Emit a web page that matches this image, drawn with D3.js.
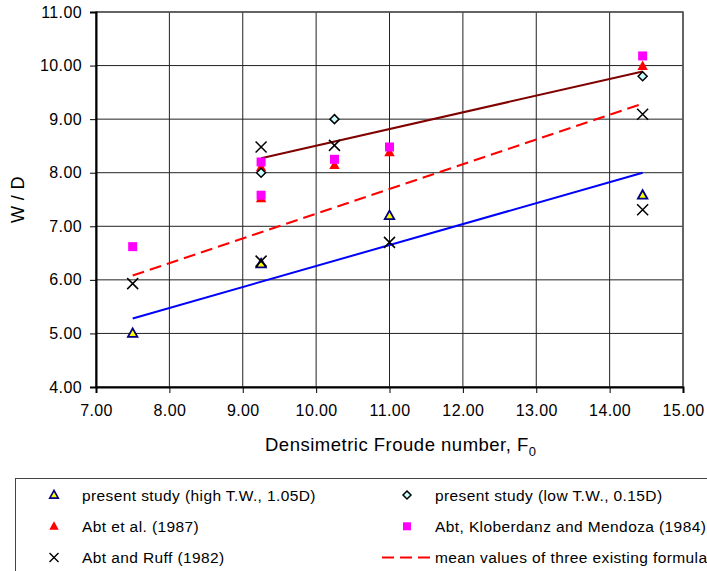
<!DOCTYPE html>
<html>
<head>
<meta charset="utf-8">
<script src="https://cdn.jsdelivr.net/npm/d3@7"></script>
<style>
  body { margin: 0; background: #fff; }
  svg { font-family: "Liberation Sans", Arial, sans-serif; display: block; }
</style>
</head>
<body>
<div id="chart"></div>
<script>
// data
var xTicks = [7, 8, 9, 10, 11, 12, 13, 14, 15];
var yTicks = [4, 5, 6, 7, 8, 9, 10, 11];

var highTW = [[7.5, 5.0], [9.25, 6.3], [11.0, 7.2], [14.45, 7.58]];
var lowTW = [[9.25, 8.0], [10.25, 9.0], [14.45, 9.8]];
var abt1987 = [[9.25, 8.1], [9.25, 7.52], [10.25, 8.14], [11.0, 8.38], [14.45, 9.99]];
var abtKM1984 = [[7.5, 6.62], [9.25, 8.2], [9.25, 7.58], [10.25, 8.25], [11.0, 8.48], [14.45, 10.18]];
var abtRuff1982 = [[7.5, 5.93], [9.25, 8.48], [9.25, 6.35], [10.25, 8.51], [11.0, 6.7], [14.45, 9.09], [14.45, 7.31]];

var lineLow = [[9.25, 8.27], [14.45, 9.89]];
var lineMean = [[7.5, 6.08], [14.45, 9.29]];
var lineHigh = [[7.5, 5.28], [14.45, 8.0]];

var svgWidth = 707;
var svgHeight = 571;
var margin = {top: 12, left: 96};
var width = 587;
var height = 375;

var svg = d3.select('#chart')
    .append('svg')
    .attr('width', svgWidth)
    .attr('height', svgHeight);

var chartGroup = svg.append('g')
    .attr('transform', `translate(${margin.left},${margin.top})`);

var x = d3.scaleLinear().domain([7, 15]).range([0, width]);
var y = d3.scaleLinear().domain([4, 11]).range([height, 0]);

// grid
chartGroup.append('g').selectAll('line')
    .data(xTicks)
    .enter().append('line')
    .attr('x1', d => x(d)).attr('x2', d => x(d))
    .attr('y1', 0).attr('y2', height)
    .attr('stroke', '#222').attr('stroke-width', 1);
chartGroup.append('g').selectAll('line')
    .data(yTicks)
    .enter().append('line')
    .attr('x1', 0).attr('x2', width)
    .attr('y1', d => y(d)).attr('y2', d => y(d))
    .attr('stroke', '#222').attr('stroke-width', 1);
chartGroup.append('rect')
    .attr('x', 0).attr('y', 0)
    .attr('width', width).attr('height', height)
    .attr('fill', 'none').attr('stroke', '#555').attr('stroke-width', 1.5);

// axes
var bottomAxis = d3.axisBottom(x).tickValues(xTicks).tickFormat(d3.format('.2f')).tickSizeOuter(0).tickSize(6).tickPadding(12);
var leftAxis = d3.axisLeft(y).tickValues(yTicks).tickFormat(d3.format('.2f')).tickSizeOuter(0).tickSize(6).tickPadding(8);

var xg = chartGroup.append('g')
    .attr('transform', `translate(0,${height})`)
    .call(bottomAxis);
var yg = chartGroup.append('g')
    .call(leftAxis);
[xg, yg].forEach(function(g) {
    g.select('.domain').attr('stroke', '#000').attr('stroke-width', 2);
    g.selectAll('.tick line').attr('stroke', '#000').attr('stroke-width', 1);
    g.selectAll('.tick text').attr('font-size', 16).attr('fill', '#000')
        .attr('letter-spacing', 0.4)
        .attr('font-family', '"Liberation Sans", Arial, sans-serif');
});

// fitted lines
var line = d3.line().x(d => x(d[0])).y(d => y(d[1]));
chartGroup.append('path').datum(lineLow)
    .attr('d', line).attr('fill', 'none').attr('stroke', '#800000').attr('stroke-width', 2);
chartGroup.append('path').datum(lineMean)
    .attr('d', line).attr('fill', 'none').attr('stroke', '#ff0000').attr('stroke-width', 2)
    .attr('stroke-dasharray', '12,6');
chartGroup.append('path').datum(lineHigh)
    .attr('d', line).attr('fill', 'none').attr('stroke', '#0000ff').attr('stroke-width', 2);

// marker helpers
function triPath(s) {
    return `M0,${-s} L${s * 0.95},${s * 0.7} L${-s * 0.95},${s * 0.7} Z`;
}
function diaPath(s) {
    return `M0,${-s} L${s},0 L0,${s} L${-s},0 Z`;
}
function xPath(s) {
    return `M${-s},${-s} L${s},${s} M${-s},${s} L${s},${-s}`;
}

chartGroup.append('g').selectAll('path')
    .data(abt1987).enter().append('path')
    .attr('transform', d => `translate(${x(d[0])},${y(d[1])})`)
    .attr('d', triPath(5.5))
    .attr('fill', '#ff0000');

chartGroup.append('g').selectAll('rect')
    .data(abtKM1984).enter().append('rect')
    .attr('x', d => x(d[0]) - 4.5).attr('y', d => y(d[1]) - 4.5)
    .attr('width', 9).attr('height', 9)
    .attr('fill', '#ff00ff');

chartGroup.append('g').selectAll('path')
    .data(lowTW).enter().append('path')
    .attr('transform', d => `translate(${x(d[0])},${y(d[1])})`)
    .attr('d', diaPath(4.5))
    .attr('fill', '#ccffff').attr('stroke', '#000').attr('stroke-width', 1.5);

chartGroup.append('g').selectAll('path')
    .data(highTW).enter().append('path')
    .attr('transform', d => `translate(${x(d[0])},${y(d[1])})`)
    .attr('d', triPath(5))
    .attr('fill', '#ffff00').attr('stroke', '#000080').attr('stroke-width', 1.8);

chartGroup.append('g').selectAll('path')
    .data(abtRuff1982).enter().append('path')
    .attr('transform', d => `translate(${x(d[0])},${y(d[1])})`)
    .attr('d', xPath(5.5))
    .attr('fill', 'none').attr('stroke', '#000').attr('stroke-width', 1.5);

// axis titles
svg.append('text')
    .attr('transform', 'rotate(-90)')
    .attr('x', -(margin.top + height / 2))
    .attr('y', 24)
    .attr('text-anchor', 'middle')
    .attr('font-size', 18)
    .attr('letter-spacing', 0.4)
    .text('W / D');

var xTitle = svg.append('text')
    .attr('x', 265)
    .attr('y', 451)
    .attr('font-size', 18.5)
    .attr('letter-spacing', 0.5);
xTitle.append('tspan').text('Densimetric Froude number, F');
xTitle.append('tspan').attr('font-size', 13).attr('dy', 5).text('0');

// legend
var legendItems = [
    {label: 'present study (high T.W., 1.05D)', type: 'highTW', col: 0, row: 0},
    {label: 'present study (low T.W., 0.15D)', type: 'lowTW', col: 1, row: 0},
    {label: 'Abt et al. (1987)', type: 'abt1987', col: 0, row: 1},
    {label: 'Abt, Kloberdanz and Mendoza (1984)', type: 'abtKM', col: 1, row: 1},
    {label: 'Abt and Ruff (1982)', type: 'ruff', col: 0, row: 2},
    {label: 'mean values of three existing formulas', type: 'mean', col: 1, row: 2}
];

svg.append('rect')
    .attr('x', 15.5).attr('y', 478.5)
    .attr('width', 720).attr('height', 110)
    .attr('fill', 'none').attr('stroke', '#444').attr('stroke-width', 1);

var legend = svg.append('g');
legendItems.forEach(function(it) {
    var sx = it.col === 0 ? 54 : 407;
    var tx = it.col === 0 ? 82 : 435;
    var cy = 495 + it.row * 31.3;
    var g = legend.append('g');
    if (it.type === 'highTW') {
        g.append('path').attr('transform', `translate(${sx},${cy})`).attr('d', triPath(4.5))
            .attr('fill', '#ffff00').attr('stroke', '#000080').attr('stroke-width', 1.6);
    } else if (it.type === 'lowTW') {
        g.append('path').attr('transform', `translate(${sx},${cy})`).attr('d', diaPath(4))
            .attr('fill', '#ccffff').attr('stroke', '#000').attr('stroke-width', 1.5);
    } else if (it.type === 'abt1987') {
        g.append('path').attr('transform', `translate(${sx},${cy})`).attr('d', triPath(5))
            .attr('fill', '#ff0000');
    } else if (it.type === 'abtKM') {
        g.append('rect').attr('x', sx - 4).attr('y', cy - 4).attr('width', 8).attr('height', 8)
            .attr('fill', '#ff00ff');
    } else if (it.type === 'ruff') {
        g.append('path').attr('transform', `translate(${sx},${cy})`).attr('d', xPath(4.5))
            .attr('fill', 'none').attr('stroke', '#000').attr('stroke-width', 1.4);
    } else if (it.type === 'mean') {
        g.append('line').attr('x1', 382).attr('x2', 430).attr('y1', cy).attr('y2', cy)
            .attr('stroke', '#ff0000').attr('stroke-width', 2).attr('stroke-dasharray', '12,6');
    }
    g.append('text')
        .attr('x', tx).attr('y', cy + 5.5)
        .attr('font-size', 15.5)
        .attr('letter-spacing', 0.4)
        .text(it.label);
});
</script>
</body>
</html>
